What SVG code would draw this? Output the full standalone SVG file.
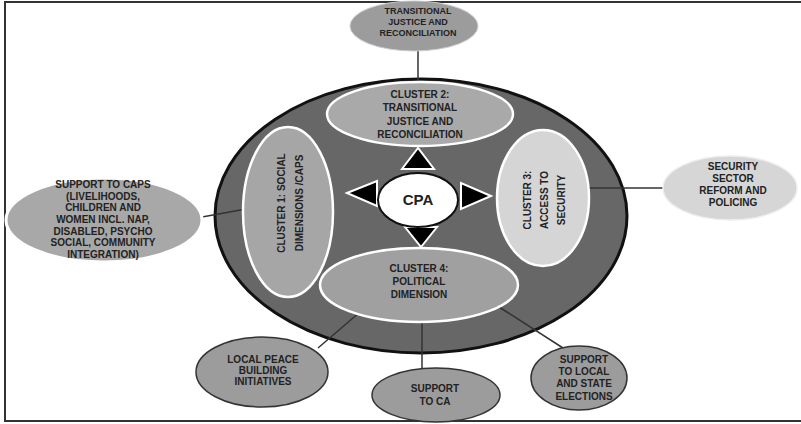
<svg xmlns="http://www.w3.org/2000/svg" width="801" height="424" viewBox="0 0 801 424">
<style>
.t{font-family:"Liberation Sans",Arial,sans-serif;font-weight:bold;font-size:10px;fill:#222;text-anchor:middle;dominant-baseline:middle}
.cl{stroke:#fff;stroke-width:2.5}
.tri{fill:#000;stroke:#fff;stroke-width:2}
.con{stroke:#333;stroke-width:1.5;fill:none}
.bn{fill:#9c9c9c;stroke:#333;stroke-width:1.5}
</style>
<rect x="0" y="0" width="801" height="424" fill="#fff"/>
<path d="M801 2 H5 V421 H801" fill="none" stroke="#333" stroke-width="2"/>
<g id="outer">
<ellipse cx="421" cy="216" rx="206" ry="137" fill="#676767" stroke="#111" stroke-width="3"/>
</g>
<g id="connectors">
<line class="con" x1="418" y1="50" x2="418" y2="84"/>
<line class="con" x1="202" y1="217" x2="246" y2="209"/>
<line class="con" x1="587" y1="188" x2="663" y2="188" stroke="#444"/>
<line class="con" x1="318" y1="348" x2="360" y2="312"/>
<line class="con" x1="422" y1="318" x2="422" y2="368"/>
<line class="con" x1="496" y1="305" x2="563" y2="348"/>
</g>
<g id="cluster2">
<ellipse class="cl" cx="420" cy="114" rx="93" ry="32" fill="#a9a9a9"/>
<text class="t" x="420" y="95">CLUSTER 2:</text>
<text class="t" x="420" y="108">TRANSITIONAL</text>
<text class="t" x="420" y="122">JUSTICE AND</text>
<text class="t" x="420" y="135">RECONCILIATION</text>
</g>
<g id="cluster1">
<ellipse class="cl" cx="288" cy="212" rx="45" ry="85" fill="#a6a6a6"/>
<g transform="translate(291 203) rotate(-90)">
<text class="t" x="0" y="-9">CLUSTER 1: SOCIAL</text>
<text class="t" x="0" y="9">DIMENSIONS /CAPS</text>
</g>
</g>
<g id="cluster3">
<ellipse class="cl" cx="543" cy="198" rx="46" ry="68" fill="#d5d5d5"/>
<g transform="translate(545 200) rotate(-90)">
<text class="t" x="0" y="-17">CLUSTER 3:</text>
<text class="t" x="0" y="0">ACCESS TO</text>
<text class="t" x="0" y="17">SECURITY</text>
</g>
</g>
<g id="cluster4">
<ellipse class="cl" cx="419" cy="285" rx="99" ry="37" fill="#a0a0a0"/>
<text class="t" x="419" y="269">CLUSTER 4:</text>
<text class="t" x="419" y="282">POLITICAL</text>
<text class="t" x="419" y="295">DIMENSION</text>
</g>
<g id="arrows">
<polygon class="tri" points="418,148 402,169 434,169"/>
<polygon class="tri" points="347,193 377,181 377,206"/>
<polygon class="tri" points="491,196 461,183 461,209"/>
<polygon class="tri" points="405,227 437,227 421,247"/>
</g>
<g id="cpa">
<ellipse cx="418" cy="200" rx="40" ry="27" fill="#fff" stroke="#111" stroke-width="2"/>
<text class="t" x="418" y="201" style="font-size:15px">CPA</text>
</g>
<g id="top-node">
<ellipse cx="414" cy="26" rx="64" ry="25" fill="#9c9c9c" stroke="#ccc" stroke-width="1"/>
<text class="t" x="418" y="12" style="font-size:9px">TRANSITIONAL</text>
<text class="t" x="418" y="23" style="font-size:9px">JUSTICE AND</text>
<text class="t" x="418" y="34" style="font-size:9px">RECONCILIATION</text>
</g>
<g id="left-node">
<ellipse cx="104" cy="220" rx="98" ry="42" fill="#a8a8a8" stroke="#fff" stroke-width="3"/>
<text class="t" x="103" y="185">SUPPORT TO CAPS</text>
<text class="t" x="103" y="197">(LIVELIHOODS,</text>
<text class="t" x="103" y="208">CHILDREN AND</text>
<text class="t" x="103" y="220">WOMEN INCL.  NAP,</text>
<text class="t" x="103" y="232">DISABLED, PSYCHO</text>
<text class="t" x="103" y="243">SOCIAL, COMMUNITY</text>
<text class="t" x="103" y="255">INTEGRATION)</text>
</g>
<g id="right-node">
<ellipse cx="730" cy="188" rx="67" ry="32" fill="#d6d6d6" stroke="#eee" stroke-width="1.5"/>
<text class="t" x="733" y="167">SECURITY</text>
<text class="t" x="733" y="179">SECTOR</text>
<text class="t" x="733" y="191">REFORM AND</text>
<text class="t" x="733" y="203">POLICING</text>
</g>
<g id="local-peace">
<ellipse class="bn" cx="262" cy="372" rx="66" ry="35"/>
<text class="t" x="263" y="360">LOCAL PEACE</text>
<text class="t" x="263" y="371">BUILDING</text>
<text class="t" x="263" y="382">INITIATIVES</text>
</g>
<g id="support-ca">
<ellipse class="bn" cx="436" cy="395" rx="64" ry="27"/>
<text class="t" x="435" y="389">SUPPORT</text>
<text class="t" x="435" y="402">TO CA</text>
</g>
<g id="support-elections">
<ellipse class="bn" cx="579" cy="378" rx="48" ry="32"/>
<text class="t" x="584" y="360">SUPPORT</text>
<text class="t" x="584" y="372">TO LOCAL</text>
<text class="t" x="584" y="384">AND STATE</text>
<text class="t" x="584" y="397">ELECTIONS</text>
</g>
</svg>
